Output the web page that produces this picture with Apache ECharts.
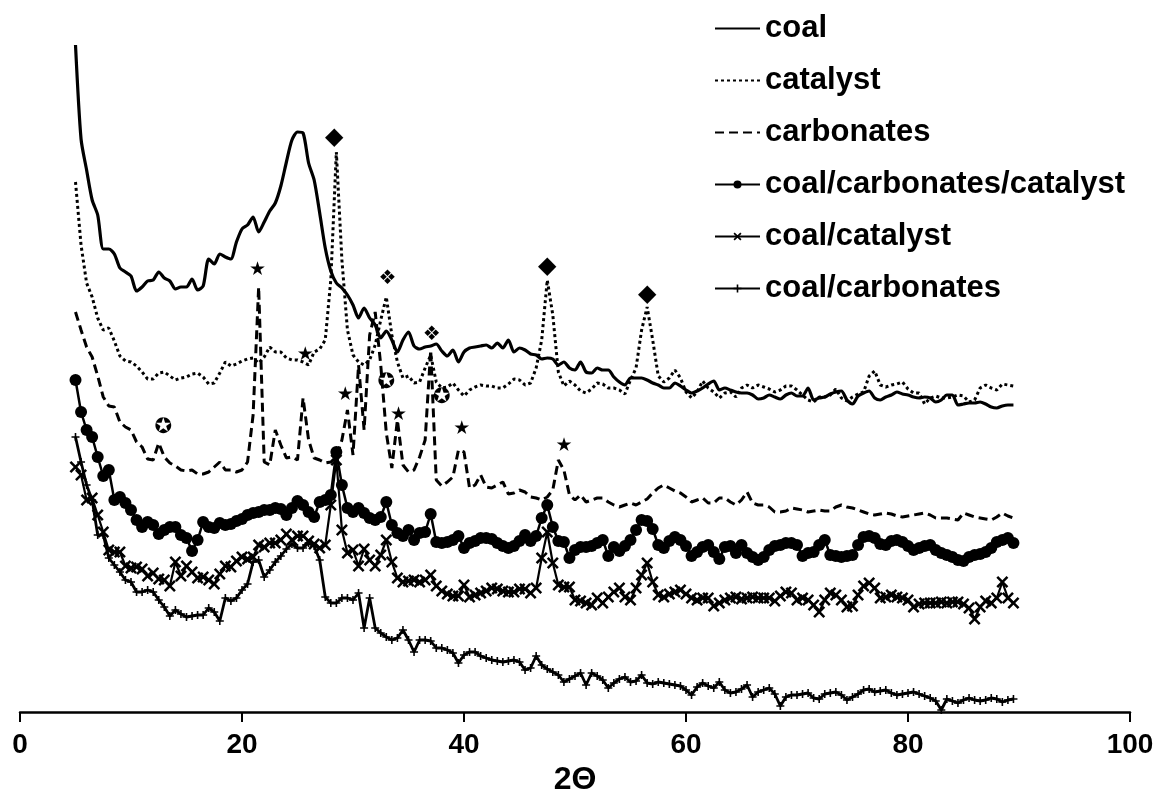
<!DOCTYPE html>
<html>
<head>
<meta charset="utf-8">
<script src="https://cdn.jsdelivr.net/npm/echarts@6/dist/echarts.min.js"></script>
<style>
html,body{margin:0;padding:0;background:#fff;}
#chart{width:1158px;height:792px;}
</style>
</head>
<body>
<div id="chart"></div>
<script>
// 2θ sampling grid: 5.0 to 89.5 deg, step 0.5
const thetaStart = 5;
const thetaStep = 0.5;
const thetaCount = 170;

// intensities (arbitrary units, stacked offsets as in the figure)
const coal = [
667,573,542,512,497,463,463,458,444,440,
436,421,425,431,432,440,434,431,423,425,
425,433,422,426,453,448,458,455,453,470,
483,487,495,480,490,501,509,526,550,572,
580,579,549,532,499,464,441,429,424,417,
407,394,404,394,387,374,381,372,360,372,
380,366,363,365,366,368,361,356,362,350,
360,364,365,366,367,364,369,364,372,360,
364,362,358,357,353,354,353,347,350,344,
342,350,340,339,344,342,342,335,330,327,
334,334,334,332,329,327,324,324,329,326,
322,319,321,324,328,331,322,324,322,320,
319,319,317,313,314,317,315,313,317,319,
316,316,324,312,314,315,318,320,321,312,
308,316,319,321,314,312,315,317,320,318,
317,315,314,315,314,310,312,317,317,307,
308,309,309,310,308,305,304,306,307,307];

const catalyst = [
530,467,429,415,394,382,384,371,356,351,
350,346,340,333,333,339,340,336,332,334,
335,338,339,335,328,329,339,350,346,348,
351,353,354,349,355,365,360,360,354,352,
352,350,347,360,363,372,432,560,452,382,
357,350,347,352,367,392,415,377,350,334,
336,329,330,344,357,330,324,325,329,322,
316,322,325,327,326,326,324,324,328,333,
332,327,329,344,372,432,397,340,326,331,
327,321,319,323,329,328,324,324,322,318,
332,344,382,405,372,336,330,334,342,334,
320,314,320,331,324,320,314,319,320,315,
324,327,324,327,325,323,320,322,326,326,
322,317,312,310,315,315,317,323,314,311,
315,318,320,336,341,327,325,327,328,330,
323,319,319,308,314,316,314,314,315,317,
316,310,312,324,327,324,322,328,327,326];

const carbonates = [
400,382,365,355,336,315,306,305,290,285,
282,270,265,253,252,269,255,249,246,242,
241,242,238,238,240,245,250,242,242,240,
242,250,297,425,250,247,282,267,254,255,
252,314,272,254,252,249,250,255,272,302,
257,347,282,377,400,347,279,244,292,247,
240,242,255,272,362,232,226,230,235,262,
260,224,227,237,225,224,227,230,218,219,
222,220,215,214,212,215,222,252,242,217,
212,217,210,212,214,214,210,207,205,207,
209,207,210,213,219,224,227,224,221,219,
215,210,212,214,209,209,214,214,210,207,
212,220,209,207,207,205,200,200,201,204,
203,202,200,201,202,201,201,205,207,205,
204,202,200,198,197,198,199,198,196,195,
196,197,198,199,197,194,194,194,193,192,
199,197,195,194,193,192,195,199,196,194];

const coalCarbCat = [
332,300,282,275,255,236,242,212,215,209,
202,192,185,190,187,178,182,185,185,177,
174,161,172,190,185,184,189,187,188,191,
193,197,199,200,202,202,204,203,197,204,
211,207,200,195,210,212,217,260,227,204,
200,204,199,194,192,195,210,187,179,176,
182,172,179,180,198,170,169,170,172,176,
164,169,171,174,174,173,169,166,164,166,
171,177,171,176,194,207,185,171,170,154,
162,165,165,166,169,172,156,165,161,166,
172,182,192,191,183,167,164,171,175,172,
166,156,160,165,167,160,153,165,166,159,
167,159,155,152,155,162,166,167,169,169,
167,156,159,160,167,172,157,156,155,156,
157,167,175,176,174,168,167,171,172,170,
166,162,164,166,167,162,159,157,155,152,
151,155,157,158,160,164,170,172,174,169];

const coalCat = [
245,237,212,214,197,180,162,160,160,146,
144,145,143,136,139,133,132,126,150,136,
146,140,134,135,132,128,138,146,145,151,
155,153,155,167,165,169,169,172,178,172,
176,176,171,168,164,167,207,252,182,159,
162,146,163,152,146,157,172,150,134,130,
131,132,130,132,137,126,121,118,116,116,
127,115,117,119,121,124,123,121,120,120,
123,123,119,124,154,180,149,127,125,125,
112,111,109,107,114,109,115,120,124,115,
112,124,137,149,130,117,115,118,120,122,
118,114,112,114,114,106,109,112,114,115,
113,114,115,114,114,114,111,116,120,119,
112,114,112,107,100,112,119,117,112,105,
106,117,126,129,124,114,115,117,115,114,
112,105,108,109,109,109,110,109,110,110,
108,104,93,105,111,109,114,130,114,109];

const coalCarb = [
275,250,227,212,177,177,154,147,140,132,
130,120,120,122,120,112,105,96,102,98,
95,96,97,97,104,100,91,114,111,114,
122,128,150,152,135,142,150,156,163,168,
164,164,169,166,152,115,109,109,114,114,
112,119,84,114,84,79,75,72,74,82,
72,60,72,72,71,64,64,62,59,49,
57,60,60,56,54,52,51,50,51,52,
50,42,44,56,47,43,40,37,30,33,
36,39,27,39,36,32,24,29,33,35,
30,31,37,29,28,30,29,28,27,26,
22,17,25,29,26,24,30,22,19,20,
23,27,15,20,22,24,18,6,15,17,
17,18,19,14,13,18,19,20,17,12,
15,18,22,23,20,21,22,19,17,18,
19,20,18,16,14,11,2,13,11,9,
12,14,12,11,12,14,13,10,12,13];

// peak annotations: [2θ, intensity, glyph]
const peakMarks = [
[28.3,574,'◆'],[47.5,445,'◆'],[56.5,417,'◆'],
[33.1,433,'❖'],[37.1,377,'❖'],
[21.4,442,'★'],[25.7,357,'★'],[29.3,317,'★'],[34.1,297,'★'],[39.8,283,'★'],[49.0,266,'★'],
[12.9,284,'✪'],[33.0,329,'✪'],[38.0,314,'✪']
];

const xTicks = [0,20,40,60,80,100];
const seriesNames = ['coal','catalyst','carbonates','coal/carbonates/catalyst','coal/catalyst','coal/carbonates'];

const theta = [];
for (let i = 0; i < thetaCount; i++) theta.push(thetaStart + i * thetaStep);
const pairs = arr => theta.map((t, i) => [t, arr[i]]);

const glyphSize = {'◆': 24, '❖': 20, '★': 19, '✪': 21};
const X_SYM = 'path://M0,1.5L1.5,0L5,3.5L8.5,0L10,1.5L6.5,5L10,8.5L8.5,10L5,6.5L1.5,10L0,8.5L3.5,5Z';
const PLUS_SYM = 'path://M4,0H6V4H10V6H6V10H4V6H0V4H4Z';
const FONT = '"Liberation Sans", Arial, sans-serif';

const legendData = seriesNames.map((n, i) => i < 3 ? {name: n, itemStyle: {opacity: 0}} : {name: n});

const chart = echarts.init(document.getElementById('chart'), null, {renderer: 'canvas'});
chart.setOption({
  animation: false,
  backgroundColor: '#fff',
  grid: {left: 20, right: 28, top: 12, bottom: 80, containLabel: false, outerBoundsMode: 'none'},
  legend: {
    data: legendData,
    orient: 'vertical',
    left: 714,
    top: 13,
    padding: 0,
    itemWidth: 45,
    itemHeight: 10,
    itemGap: 21,
    textStyle: {fontFamily: FONT, fontWeight: 'bold', fontSize: 31, color: '#000', lineHeight: 31}
  },
  xAxis: {
    type: 'value', min: xTicks[0], max: xTicks[xTicks.length - 1], interval: 20,
    name: '2Θ', nameLocation: 'middle', nameGap: 47,
    nameTextStyle: {fontFamily: FONT, fontWeight: 'bold', fontSize: 32, color: '#000'},
    axisLine: {lineStyle: {color: '#000', width: 2.5}},
    axisTick: {length: 10, lineStyle: {color: '#000', width: 2}},
    axisLabel: {margin: 19, fontFamily: FONT, fontWeight: 'bold', fontSize: 28, color: '#000'},
    splitLine: {show: false}
  },
  yAxis: {type: 'value', min: 0, max: 700, show: false},
  series: [
    {name: seriesNames[0], type: 'line', data: pairs(coal), symbol: 'none', smooth: 0.25,
     lineStyle: {color: '#000', width: 3.2}, itemStyle: {color: '#000'}},
    {name: seriesNames[1], type: 'line', data: pairs(catalyst), symbol: 'none',
     lineStyle: {color: '#000', width: 3, type: [3, 3]}, itemStyle: {color: '#000'}},
    {name: seriesNames[2], type: 'line', data: pairs(carbonates), symbol: 'none',
     lineStyle: {color: '#000', width: 3, type: [9, 5]}, itemStyle: {color: '#000'}},
    {name: seriesNames[3], type: 'line', data: pairs(coalCarbCat), symbol: 'circle', symbolSize: 12,
     lineStyle: {color: '#000', width: 2.5}, itemStyle: {color: '#000'}},
    {name: seriesNames[4], type: 'line', data: pairs(coalCat), symbol: X_SYM, symbolSize: 12,
     lineStyle: {color: '#000', width: 2.2}, itemStyle: {color: '#000'}},
    {name: seriesNames[5], type: 'line', data: pairs(coalCarb), symbol: PLUS_SYM, symbolSize: 8,
     lineStyle: {color: '#000', width: 2.8}, itemStyle: {color: '#000'}},
    {name: 'peaks', type: 'scatter', symbol: 'circle', symbolSize: 2,
     data: peakMarks.map(m => ({value: m, label: {fontSize: glyphSize[m[2]]}})),
     itemStyle: {color: 'rgba(0,0,0,0)'}, silent: true, z: 5,
     label: {show: true, position: 'inside', formatter: p => p.value[2],
             textBorderWidth: 0, opacity: 1,
             fontFamily: '"DejaVu Sans", sans-serif', fontSize: 20, color: '#000'}}
  ]
});
</script>
</body>
</html>
